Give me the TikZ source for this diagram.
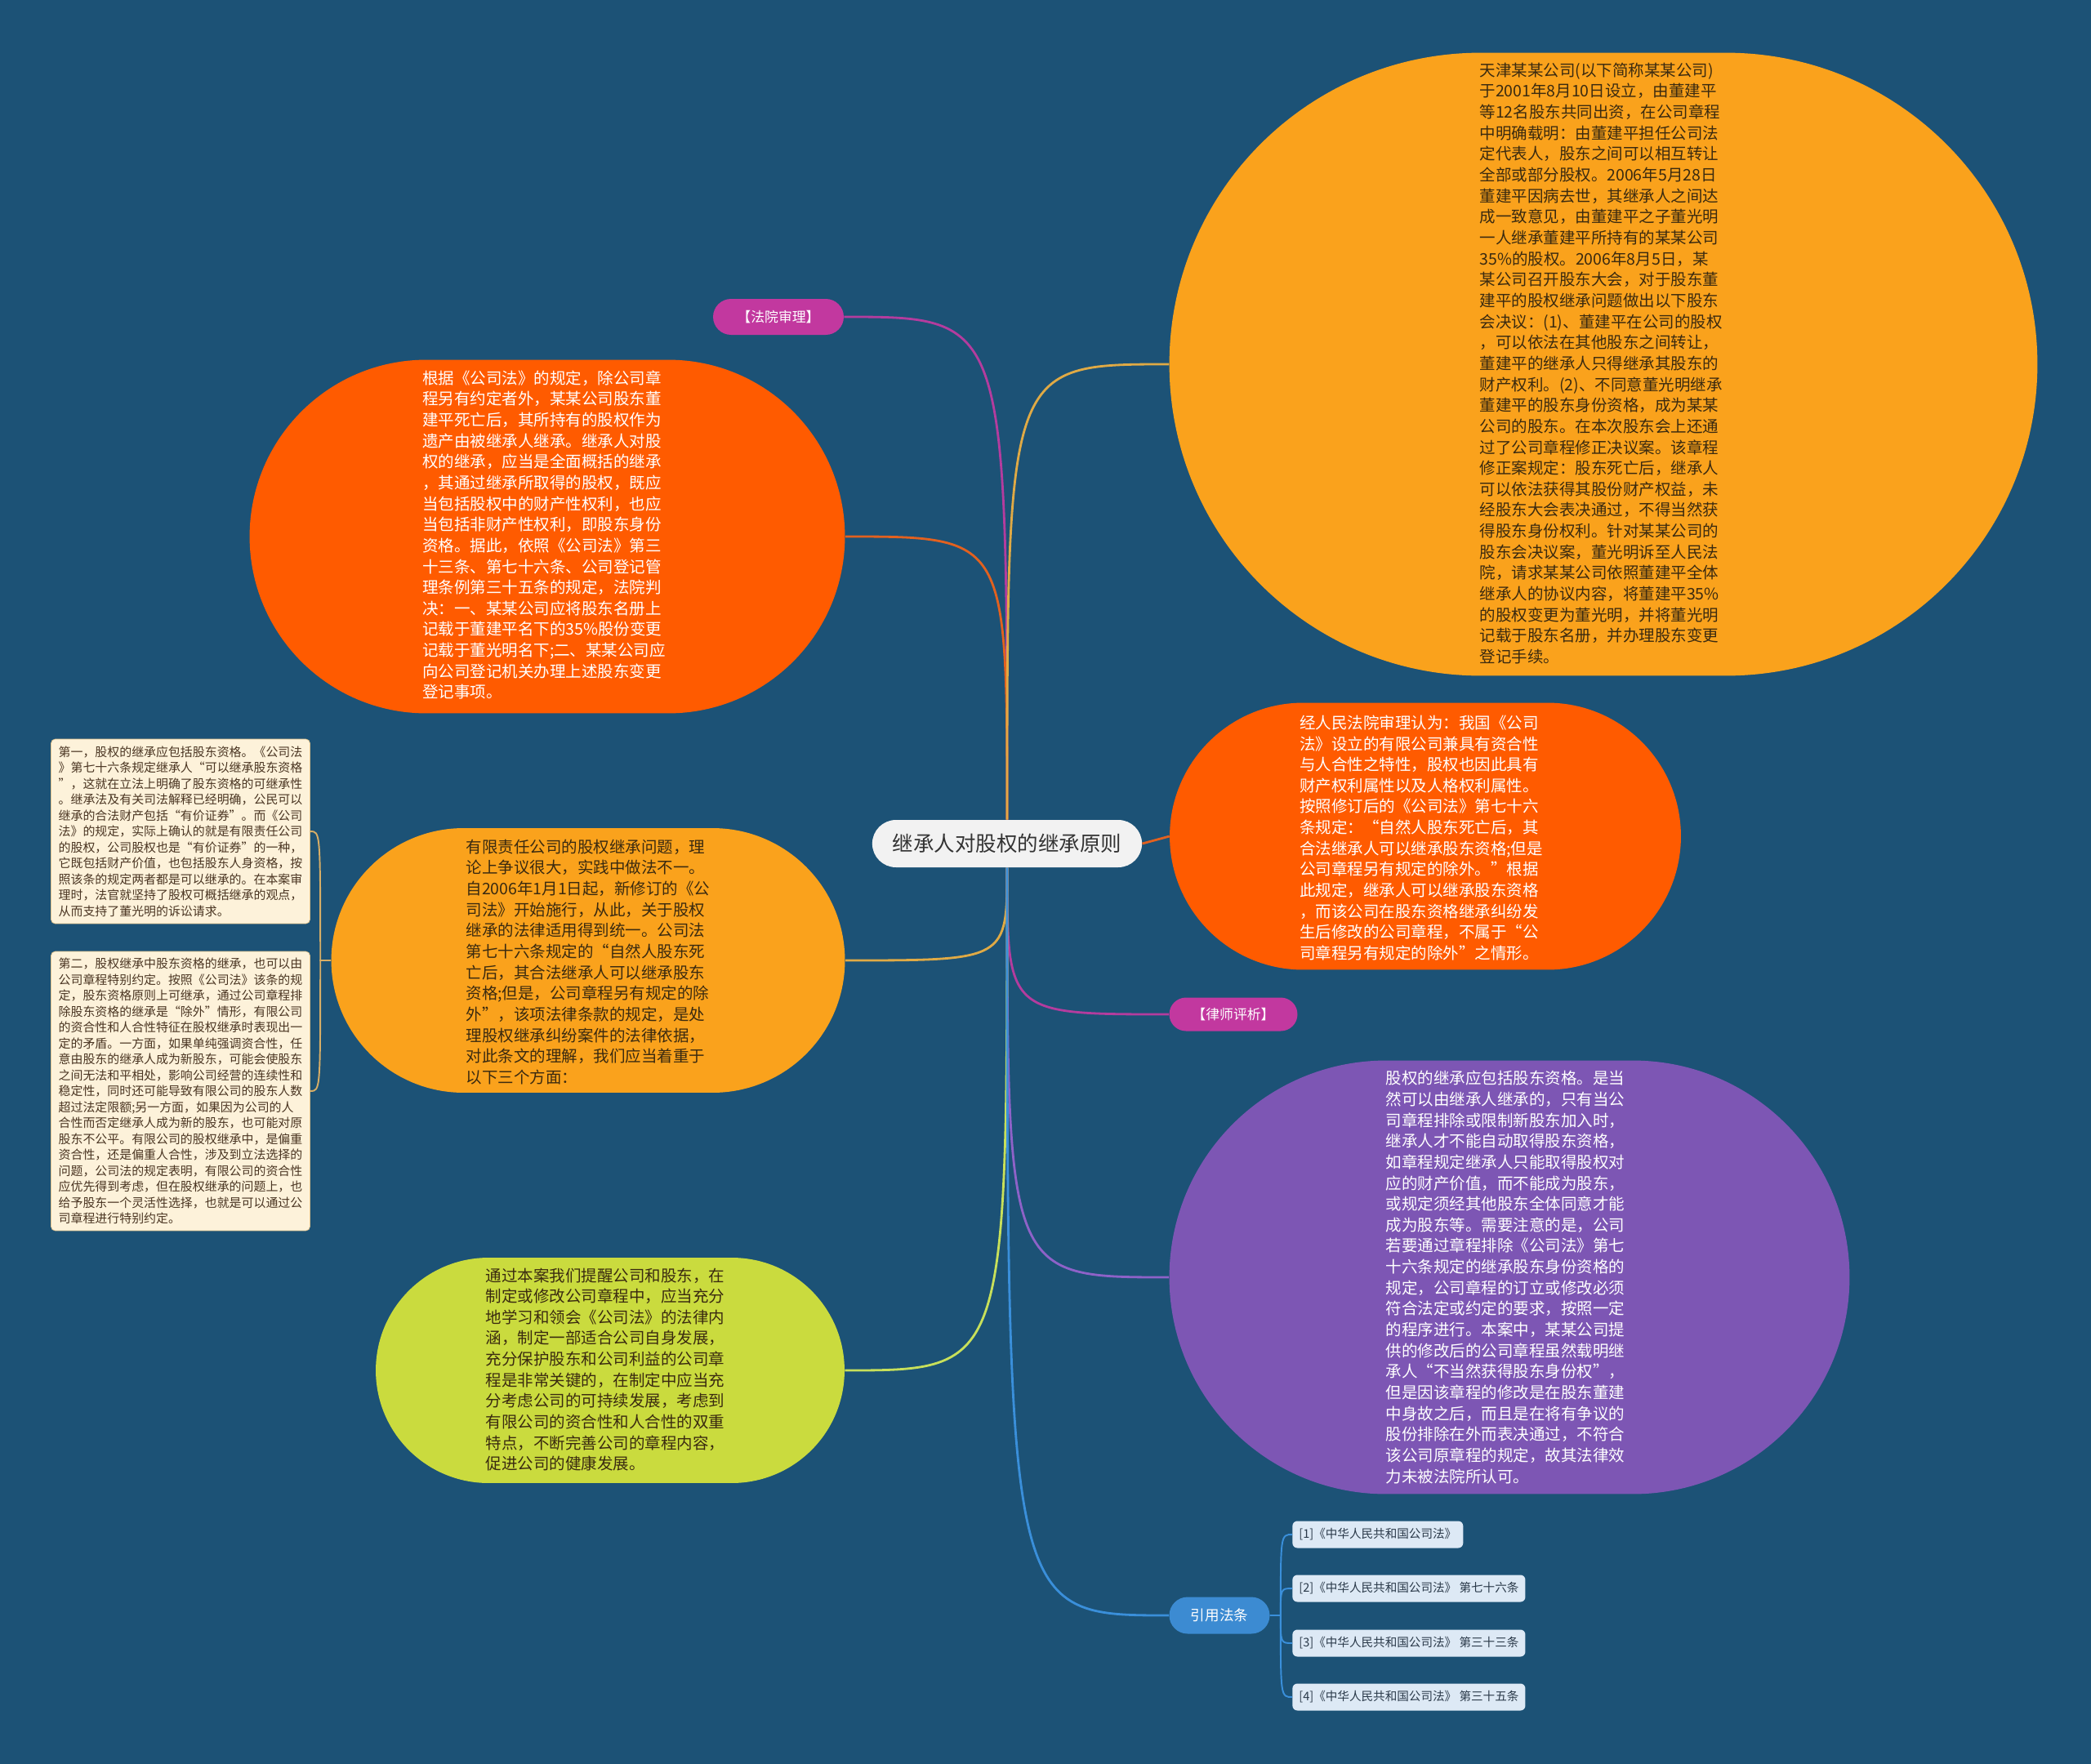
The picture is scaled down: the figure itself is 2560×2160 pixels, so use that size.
\documentclass[tikz,border=0pt]{standalone}
\usepackage{fontspec}
\setmainfont{Noto Sans CJK SC}
\usetikzlibrary{shapes.misc,positioning}

\definecolor{bgblue}{HTML}{1C5276}
\definecolor{bubbleamber}{HTML}{FAA21C}
\definecolor{bubbleflame}{HTML}{FF5B00}
\definecolor{bubbleviolet}{HTML}{7D56B4}
\definecolor{bubblelime}{HTML}{CADB3E}
\definecolor{tagmag}{HTML}{C2389F}
\definecolor{lawblue}{HTML}{3C8BD2}
\definecolor{rootgrey}{HTML}{F2F2F2}
\definecolor{roottext}{HTML}{333333}
\definecolor{darkink}{HTML}{3A2A10}
\definecolor{notecream}{HTML}{FDF2DA}
\definecolor{noteedge}{HTML}{E0C28A}
\definecolor{notetext}{HTML}{4A3522}
\definecolor{refblue}{HTML}{DDE9F5}
\definecolor{reftext}{HTML}{2B3A4A}
\definecolor{linkmag}{HTML}{B43C9E}
\definecolor{linkflame}{HTML}{E2611F}
\definecolor{linkamber}{HTML}{E0AA45}
\definecolor{linkviolet}{HTML}{8E62C8}
\definecolor{linklime}{HTML}{C8E05A}
\definecolor{linkblue}{HTML}{3A8FDA}
\definecolor{linktan}{HTML}{D8AE66}

\tikzset{
  bubble/.style={rounded rectangle, inner sep=0pt},
  bodytext/.style={align=left, inner sep=0pt, font=\fontsize{11.1}{14.6}\selectfont},
  tag/.style={rounded rectangle, text=white, inner sep=0pt, font=\fontsize{9.6}{11}\selectfont},
  notebox/.style={rectangle, rounded corners=0.1cm, fill=notecream, draw=noteedge, line width=0.4pt, align=left, text=notetext, inner sep=0pt, font=\fontsize{8.5}{11.1}\selectfont},
  refbox/.style={rectangle, rounded corners=0.12cm, fill=refblue, text=reftext, anchor=west, inner xsep=0.16cm, inner ysep=0pt, minimum height=0.66cm, font=\fontsize{8.3}{9.5}\selectfont},
  branch/.style={line width=1.6pt},
  twig/.style={line width=1.1pt}
}

\begin{document}
\begin{tikzpicture}[x=0.02cm, y=-0.02cm]
\fill[bgblue] (0,0) rectangle (2560,2160);
\useasboundingbox (0,0) rectangle (2560,2160);

\node (root) [rounded rectangle, fill=rootgrey, text=roottext, minimum width=6.84cm, minimum height=1.16cm, font=\fontsize{14.5}{16}\selectfont] at (1233,1033) {继承人对股权的继承原则};

% left side
\node (court) [tag, fill=tagmag, minimum width=3.2cm, minimum height=0.88cm] at (953,388) {【法院审理】};
\node (ruling) [bubble, fill=bubbleflame, minimum width=14.58cm, minimum height=8.66cm] at (670,657) {};
\node (rulingtext) [bodytext, text=white] at (666,655) {根据《公司法》的规定，除公司章\\
程另有约定者外，某某公司股东董\\
建平死亡后，其所持有的股权作为\\
遗产由被继承人继承。继承人对股\\
权的继承，应当是全面概括的继承\\
，其通过继承所取得的股权，既应\\
当包括股权中的财产性权利，也应\\
当包括非财产性权利，即股东身份\\
资格。据此，依照《公司法》第三\\
十三条、第七十六条、公司登记管\\
理条例第三十五条的规定，法院判\\
决：一、某某公司应将股东名册上\\
记载于董建平名下的35\%股份变更\\
记载于董光明名下;二、某某公司应\\
向公司登记机关办理上述股东变更\\
登记事项。};

\node (issue) [bubble, fill=bubbleamber, minimum width=12.58cm, minimum height=6.48cm] at (720,1176) {};
\node (issuetext) [bodytext, text=darkink] at (720,1178) {有限责任公司的股权继承问题，理\\
论上争议很大，实践中做法不一。\\
自2006年1月1日起，新修订的《公\\
司法》开始施行，从此，关于股权\\
继承的法律适用得到统一。公司法\\
第七十六条规定的“自然人股东死\\
亡后，其合法继承人可以继承股东\\
资格;但是，公司章程另有规定的除\\
外”，该项法律条款的规定，是处\\
理股权继承纠纷案件的法律依据，\\
对此条文的理解，我们应当着重于\\
以下三个方面：};

\node (first) [notebox, minimum width=6.34cm, minimum height=4.52cm] at (221,1018) {第一，股权的继承应包括股东资格。《公司法\\
》第七十六条规定继承人“可以继承股东资格\\
”，这就在立法上明确了股东资格的可继承性\\
。继承法及有关司法解释已经明确，公民可以\\
继承的合法财产包括“有价证券”。而《公司\\
法》的规定，实际上确认的就是有限责任公司\\
的股权，公司股权也是“有价证券”的一种，\\
它既包括财产价值，也包括股东人身资格，按\\
照该条的规定两者都是可以继承的。在本案审\\
理时，法官就坚持了股权可概括继承的观点，\\
从而支持了董光明的诉讼请求。};
\node (second) [notebox, minimum width=6.34cm, minimum height=6.84cm] at (221,1336) {第二，股权继承中股东资格的继承，也可以由\\
公司章程特别约定。按照《公司法》该条的规\\
定，股东资格原则上可继承，通过公司章程排\\
除股东资格的继承是“除外”情形，有限公司\\
的资合性和人合性特征在股权继承时表现出一\\
定的矛盾。一方面，如果单纯强调资合性，任\\
意由股东的继承人成为新股东，可能会使股东\\
之间无法和平相处，影响公司经营的连续性和\\
稳定性，同时还可能导致有限公司的股东人数\\
超过法定限额;另一方面，如果因为公司的人\\
合性而否定继承人成为新的股东，也可能对原\\
股东不公平。有限公司的股权继承中，是偏重\\
资合性，还是偏重人合性，涉及到立法选择的\\
问题，公司法的规定表明，有限公司的资合性\\
应优先得到考虑，但在股权继承的问题上，也\\
给予股东一个灵活性选择，也就是可以通过公\\
司章程进行特别约定。};

\node (advice) [bubble, fill=bubblelime, minimum width=11.48cm, minimum height=5.52cm] at (747,1678) {};
\node (advicetext) [bodytext, text=darkink] at (741,1677) {通过本案我们提醒公司和股东，在\\
制定或修改公司章程中，应当充分\\
地学习和领会《公司法》的法律内\\
涵，制定一部适合公司自身发展，\\
充分保护股东和公司利益的公司章\\
程是非常关键的，在制定中应当充\\
分考虑公司的可持续发展，考虑到\\
有限公司的资合性和人合性的双重\\
特点，不断完善公司的章程内容，\\
促进公司的健康发展。};

% right side
\node (facts) [bubble, fill=bubbleamber, minimum width=21.26cm, minimum height=15.26cm] at (1963,446) {};
\node (factstext) [bodytext, text=darkink] at (1960,445) {天津某某公司(以下简称某某公司)\\
于2001年8月10日设立，由董建平\\
等12名股东共同出资，在公司章程\\
中明确载明：由董建平担任公司法\\
定代表人，股东之间可以相互转让\\
全部或部分股权。2006年5月28日\\
董建平因病去世，其继承人之间达\\
成一致意见，由董建平之子董光明\\
一人继承董建平所持有的某某公司\\
35\%的股权。2006年8月5日，某\\
某公司召开股东大会，对于股东董\\
建平的股权继承问题做出以下股东\\
会决议：(1)、董建平在公司的股权\\
，可以依法在其他股东之间转让，\\
董建平的继承人只得继承其股东的\\
财产权利。(2)、不同意董光明继承\\
董建平的股东身份资格，成为某某\\
公司的股东。在本次股东会上还通\\
过了公司章程修正决议案。该章程\\
修正案规定：股东死亡后，继承人\\
可以依法获得其股份财产权益，未\\
经股东大会表决通过，不得当然获\\
得股东身份权利。针对某某公司的\\
股东会决议案，董光明诉至人民法\\
院，请求某某公司依照董建平全体\\
继承人的协议内容，将董建平35\%\\
的股权变更为董光明，并将董光明\\
记载于股东名册，并办理股东变更\\
登记手续。};

\node (view) [bubble, fill=bubbleflame, minimum width=12.52cm, minimum height=6.54cm] at (1745,1024) {};
\node (viewtext) [bodytext, text=white] at (1740,1026) {经人民法院审理认为：我国《公司\\
法》设立的有限公司兼具有资合性\\
与人合性之特性，股权也因此具有\\
财产权利属性以及人格权利属性。\\
按照修订后的《公司法》第七十六\\
条规定：“自然人股东死亡后，其\\
合法继承人可以继承股东资格;但是\\
公司章程另有规定的除外。”根据\\
此规定，继承人可以继承股东资格\\
，而该公司在股东资格继承纠纷发\\
生后修改的公司章程，不属于“公\\
司章程另有规定的除外”之情形。};

\node (lawyer) [tag, fill=tagmag, minimum width=3.14cm, minimum height=0.82cm] at (1510,1242) {【律师评析】};

\node (analysis) [bubble, fill=bubbleviolet, minimum width=16.66cm, minimum height=10.62cm] at (1848,1564) {};
\node (analysistext) [bodytext, text=white] at (1843,1564) {股权的继承应包括股东资格。是当\\
然可以由继承人继承的，只有当公\\
司章程排除或限制新股东加入时，\\
继承人才不能自动取得股东资格，\\
如章程规定继承人只能取得股权对\\
应的财产价值，而不能成为股东，\\
或规定须经其他股东全体同意才能\\
成为股东等。需要注意的是，公司\\
若要通过章程排除《公司法》第七\\
十六条规定的继承股东身份资格的\\
规定，公司章程的订立或修改必须\\
符合法定或约定的要求，按照一定\\
的程序进行。本案中，某某公司提\\
供的修改后的公司章程虽然载明继\\
承人“不当然获得股东身份权”，\\
但是因该章程的修改是在股东董建\\
中身故之后，而且是在将有争议的\\
股份排除在外而表决通过，不符合\\
该公司原章程的规定，故其法律效\\
力未被法院所认可。};

\node (law) [tag, fill=lawblue, minimum width=2.46cm, minimum height=0.9cm, font=\fontsize{10}{12}\selectfont] at (1493,1978) {引用法条};
\node (ref1) [refbox] at (1582,1879) {[1]《中华人民共和国公司法》};
\node (ref2) [refbox] at (1582,1945) {[2]《中华人民共和国公司法》 第七十六条};
\node (ref3) [refbox] at (1582,2012) {[3]《中华人民共和国公司法》 第三十三条};
\node (ref4) [refbox] at (1582,2078) {[4]《中华人民共和国公司法》 第三十五条};

% connectors
\draw[branch, draw=linkmag] (root.north) .. controls (root.north |- court.east) .. (court.east);
\draw[branch, draw=linkflame] (root.north) .. controls (root.north |- ruling.east) .. (ruling.east);
\draw[branch, draw=linkamber] (root.north) .. controls (root.north |- facts.west) .. (facts.west);
\draw[branch, draw=linkflame] (root.east) -- (view.west);
\draw[branch, draw=linkamber] (root.south) .. controls (root.south |- issue.east) .. (issue.east);
\draw[branch, draw=linkmag] (root.south) .. controls (root.south |- lawyer.west) .. (lawyer.west);
\draw[branch, draw=linkviolet] (root.south) .. controls (root.south |- analysis.west) .. (analysis.west);
\draw[branch, draw=linklime] (root.south) .. controls (root.south |- advice.east) .. (advice.east);
\draw[branch, draw=linkblue] (root.south) .. controls (root.south |- law.west) .. (law.west);

\coordinate [left=0.26cm of issue.west] (fork);
\draw[twig, draw=linktan] (issue.west) -- (fork) .. controls (fork |- first.east) .. (first.east);
\draw[twig, draw=linktan] (issue.west) -- (fork) .. controls (fork |- second.east) .. (second.east);

\coordinate [right=0.26cm of law.east] (lawfork);
\foreach \r in {ref1,ref2,ref3,ref4}
  \draw[twig, draw=linkblue] (law.east) -- (lawfork) .. controls (lawfork |- \r.west) .. (\r.west);

\end{tikzpicture}
\end{document}
